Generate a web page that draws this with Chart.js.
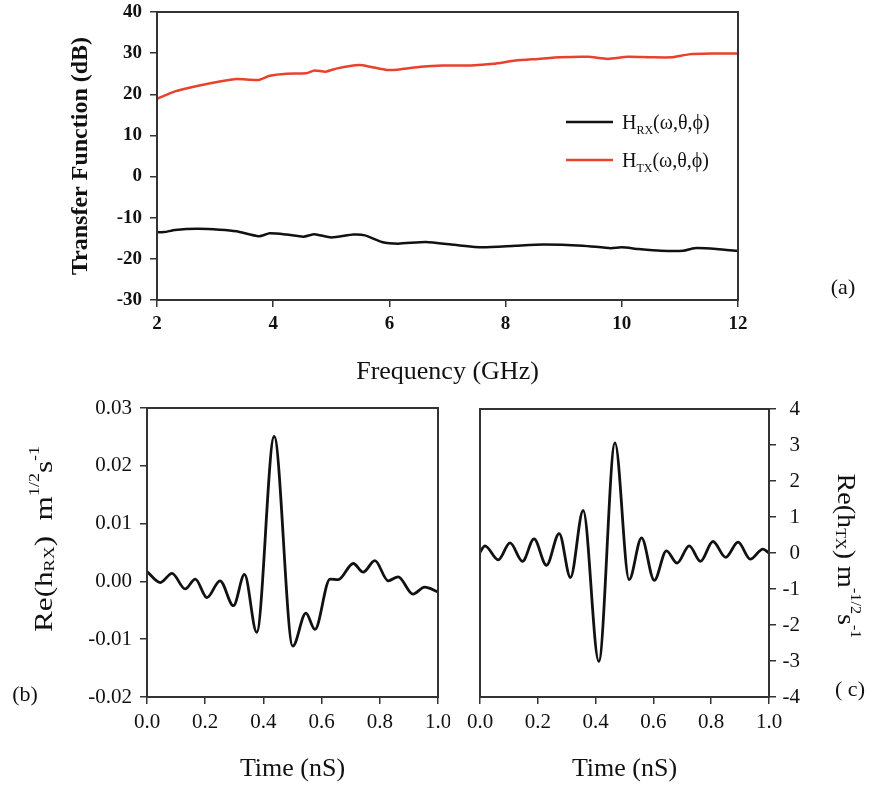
<!DOCTYPE html>
<html>
<head>
<meta charset="utf-8">
<script src="https://cdn.jsdelivr.net/npm/chart.js@4.4.0/dist/chart.umd.min.js"></script>
<style>
  body { margin: 0; background: #fff; }
  #wrap { position: relative; width: 870px; height: 790px; }
  canvas { position: absolute; }
</style>
</head>
<body>
<div id="wrap">
  <canvas id="chartA" width="870" height="390" style="left:0;top:0"></canvas>
  <canvas id="chartB" width="450" height="400" style="left:0;top:390px"></canvas>
  <canvas id="chartC" width="420" height="400" style="left:450px;top:390px"></canvas>
</div>
<script>
// (a) transfer functions
const txFreq = [2, 2.31, 2.69, 3.08, 3.37, 3.75, 3.94, 4.23, 4.57, 4.71, 4.9, 5.1, 5.48, 5.67, 5.96, 6.2, 6.54, 6.92, 7.4, 7.79, 8.17, 8.56, 8.94, 9.42, 9.76, 10.1, 10.48, 10.87, 11.15, 11.54, 12];
const txDb = [18.9, 20.7, 22.0, 23.1, 23.7, 23.5, 24.5, 25.0, 25.1, 25.8, 25.5, 26.3, 27.1, 26.7, 25.9, 26.1, 26.7, 27.0, 27.0, 27.4, 28.2, 28.6, 29.0, 29.1, 28.6, 29.1, 29.0, 29.0, 29.7, 29.9, 29.9];
const rxFreq = [2, 2.12, 2.31, 2.69, 3.08, 3.37, 3.75, 3.94, 4.23, 4.52, 4.71, 5.0, 5.38, 5.58, 5.87, 6.15, 6.63, 7.12, 7.6, 8.17, 8.65, 9.33, 9.81, 10.0, 10.29, 10.67, 11.06, 11.25, 11.63, 12];
const rxDb = [-13.5, -13.5, -13.0, -12.7, -12.9, -13.3, -14.5, -13.8, -14.1, -14.6, -14.0, -14.8, -14.1, -14.3, -15.9, -16.3, -15.9, -16.6, -17.2, -16.8, -16.5, -16.8, -17.4, -17.2, -17.6, -18.0, -18.0, -17.4, -17.6, -18.1];

// (b) receive impulse response
const timeB = [0, 0.046, 0.086, 0.131, 0.166, 0.206, 0.251, 0.297, 0.335, 0.377, 0.437, 0.501, 0.546, 0.577, 0.629, 0.657, 0.709, 0.743, 0.783, 0.829, 0.863, 0.914, 0.954, 1.0];
const hRx = [0.0017, -0.0002, 0.0014, -0.0013, 0.0004, -0.0028, 0.0001, -0.0042, 0.0012, -0.0088, 0.0251, -0.0112, -0.0055, -0.0083, 0.0004, 0.0003, 0.0031, 0.0016, 0.0036, 0.0001, 0.0008, -0.0022, -0.0010, -0.0018];

// (c) transmit impulse response
const timeC = [0, 0.017, 0.063, 0.104, 0.147, 0.187, 0.23, 0.274, 0.313, 0.357, 0.411, 0.467, 0.516, 0.559, 0.603, 0.645, 0.682, 0.724, 0.763, 0.806, 0.85, 0.893, 0.935, 0.979, 1.0];
const hTx = [0.02, 0.2, -0.19, 0.28, -0.23, 0.39, -0.34, 0.54, -0.68, 1.18, -3.01, 3.06, -0.74, 0.42, -0.76, 0.06, -0.28, 0.2, -0.23, 0.32, -0.12, 0.3, -0.17, 0.11, 0.0];

const SERIF = '"Liberation Serif", "Times New Roman", serif';
const AXIS = '#333';

function pts(xs, ys) {
  return xs.map((x, i) => ({ x: x, y: ys[i] }));
}

// draws text with sub/superscripts; parts = [text, size, dy]
function drawRich(ctx, parts, x, y, align) {
  let w = 0;
  parts.forEach(p => { ctx.font = p[1] + 'px ' + SERIF; w += ctx.measureText(p[0]).width; });
  let cx = align === 'left' ? x : x - w / 2;
  ctx.textAlign = 'left';
  parts.forEach(p => {
    ctx.font = p[1] + 'px ' + SERIF;
    ctx.fillText(p[0], cx, y + p[2]);
    cx += ctx.measureText(p[0]).width;
  });
}

function boxIt(chart) {
  const a = chart.chartArea, ctx = chart.ctx;
  ctx.save();
  ctx.strokeStyle = AXIS;
  ctx.lineWidth = 2;
  ctx.strokeRect(a.left, a.top, a.right - a.left, a.bottom - a.top);
  ctx.restore();
}

// stop label overhang from moving the plot area around
function noPad(s) {
  s.paddingTop = 0; s.paddingBottom = 0; s.paddingLeft = 0; s.paddingRight = 0;
}

function axisX(min, max, step, fmt, font, height, title, tpad) {
  return {
    type: 'linear', min: min, max: max,
    ticks: { stepSize: step, color: '#111', padding: 6, font: font, callback: fmt },
    grid: { drawOnChartArea: false, tickLength: 7, color: AXIS, lineWidth: 1.5 },
    border: { color: AXIS, width: 2 },
    title: { display: !!title, text: title, color: '#111', font: { family: SERIF, size: 26 }, padding: { top: 0, bottom: tpad } },
    afterFit: s => { s.height = height; noPad(s); }
  };
}

const tickA = { family: SERIF, size: 19, weight: 'bold' };
const tickBC = { family: SERIF, size: 21 };

// ---------- (a) ----------
new Chart(document.getElementById('chartA'), {
  type: 'line',
  data: {
    datasets: [
      { label: 'HRX', data: pts(rxFreq, rxDb), borderColor: '#111', borderWidth: 2.5, pointRadius: 0, tension: 0.2 },
      { label: 'HTX', data: pts(txFreq, txDb), borderColor: '#e8412c', borderWidth: 2.5, pointRadius: 0, tension: 0.2 }
    ]
  },
  options: {
    responsive: false, animation: false,
    layout: { padding: { left: 0, top: 12, right: 132, bottom: 0 } },
    plugins: { legend: { display: false }, tooltip: { enabled: false } },
    scales: {
      x: axisX(2, 12, 2, v => v, tickA, 90, 'Frequency (GHz)', 2),
      y: {
        type: 'linear', min: -30, max: 40,
        ticks: { stepSize: 10, color: '#111', padding: 8, font: tickA },
        grid: { drawOnChartArea: false, tickLength: 7, color: AXIS, lineWidth: 1.5 },
        border: { color: AXIS, width: 2 },
        title: { display: true, text: 'Transfer Function (dB)', color: '#111', font: { family: SERIF, size: 24, weight: 'bold' }, padding: { top: 66, bottom: 0 } },
        afterFit: s => { s.width = 157; noPad(s); }
      }
    }
  },
  plugins: [{
    id: 'extraA',
    afterDraw(chart) {
      const ctx = chart.ctx;
      boxIt(chart);
      ctx.save();
      ctx.lineWidth = 2.5;
      ctx.strokeStyle = '#111';
      ctx.beginPath(); ctx.moveTo(566, 122); ctx.lineTo(613, 122); ctx.stroke();
      ctx.strokeStyle = '#e8412c';
      ctx.beginPath(); ctx.moveTo(566, 160); ctx.lineTo(613, 160); ctx.stroke();
      ctx.fillStyle = '#111';
      ctx.textBaseline = 'alphabetic';
      drawRich(ctx, [['H', 20, 0], ['RX', 12, 5], ['(\u03c9,\u03b8,\u03d5)', 20, 0]], 622, 129, 'left');
      drawRich(ctx, [['H', 20, 0], ['TX', 12, 5], ['(\u03c9,\u03b8,\u03d5)', 20, 0]], 622, 167, 'left');
      drawRich(ctx, [['(a)', 22, 0]], 843, 294);
      ctx.restore();
    }
  }]
});

// ---------- (b) ----------
new Chart(document.getElementById('chartB'), {
  type: 'line',
  data: {
    datasets: [{ data: pts(timeB, hRx), borderColor: '#111', borderWidth: 2.8, pointRadius: 0, cubicInterpolationMode: 'monotone' }]
  },
  options: {
    responsive: false, animation: false,
    layout: { padding: { left: 0, top: 18, right: 12, bottom: 0 } },
    plugins: { legend: { display: false }, tooltip: { enabled: false } },
    scales: {
      x: axisX(0, 1, 0.2, v => v.toFixed(1), tickBC, 93, 'Time (nS)', 5),
      y: {
        type: 'linear', min: -0.02, max: 0.03,
        ticks: { stepSize: 0.01, color: '#111', padding: 8, font: tickBC,
          callback: v => (Math.abs(v) < 1e-9 ? 0 : v).toFixed(2) },
        grid: { drawOnChartArea: false, tickLength: 7, color: AXIS, lineWidth: 1.5 },
        border: { color: AXIS, width: 2 },
        afterFit: s => { s.width = 147; noPad(s); }
      }
    }
  },
  plugins: [{
    id: 'extraB',
    afterDraw(chart) {
      const ctx = chart.ctx;
      boxIt(chart);
      ctx.save();
      ctx.fillStyle = '#111';
      ctx.textBaseline = 'middle';
      ctx.translate(45, 149);
      ctx.rotate(-Math.PI / 2);
      ctx.scale(1.2, 1);
      drawRich(ctx, [['Re(h', 26, 0], ['RX', 15, 5], [')  m', 26, 0], ['1/2', 15, -10], ['s', 26, 0], ['-1', 15, -10]], 0, 0);
      ctx.restore();
      ctx.save();
      ctx.fillStyle = '#111';
      ctx.textBaseline = 'middle';
      drawRich(ctx, [['(b)', 22, 0]], 25, 305);
      ctx.restore();
    }
  }]
});

// ---------- (c) ----------
new Chart(document.getElementById('chartC'), {
  type: 'line',
  data: {
    datasets: [{ data: pts(timeC, hTx), borderColor: '#111', borderWidth: 2.8, pointRadius: 0, cubicInterpolationMode: 'monotone' }]
  },
  options: {
    responsive: false, animation: false,
    layout: { padding: { left: 30, top: 19, right: 70, bottom: 0 } },
    plugins: { legend: { display: false }, tooltip: { enabled: false } },
    scales: {
      x: axisX(0, 1, 0.2, v => v.toFixed(1), tickBC, 93, 'Time (nS)', 5),
      y: {
        type: 'linear', position: 'right', min: -4, max: 4,
        ticks: { stepSize: 1, color: '#111', padding: 8, crossAlign: 'far', font: tickBC },
        grid: { drawOnChartArea: false, tickLength: 7, color: AXIS, lineWidth: 1.5 },
        border: { color: AXIS, width: 2 },
        afterFit: s => { s.width = 31; noPad(s); }
      }
    }
  },
  plugins: [{
    id: 'extraC',
    afterDraw(chart) {
      const ctx = chart.ctx;
      boxIt(chart);
      ctx.save();
      ctx.fillStyle = '#111';
      ctx.textBaseline = 'middle';
      ctx.translate(395, 166);
      ctx.rotate(Math.PI / 2);
      ctx.scale(1.08, 1);
      drawRich(ctx, [['Re(h', 26, 0], ['TX', 15, 5], [') m', 26, 0], ['-1/2', 15, -10], ['s', 26, 0], ['-1', 15, -10]], 0, 0);
      ctx.restore();
      ctx.save();
      ctx.fillStyle = '#111';
      ctx.textBaseline = 'middle';
      drawRich(ctx, [['( c)', 22, 0]], 400, 300);
      ctx.restore();
    }
  }]
});
</script>
</body>
</html>
